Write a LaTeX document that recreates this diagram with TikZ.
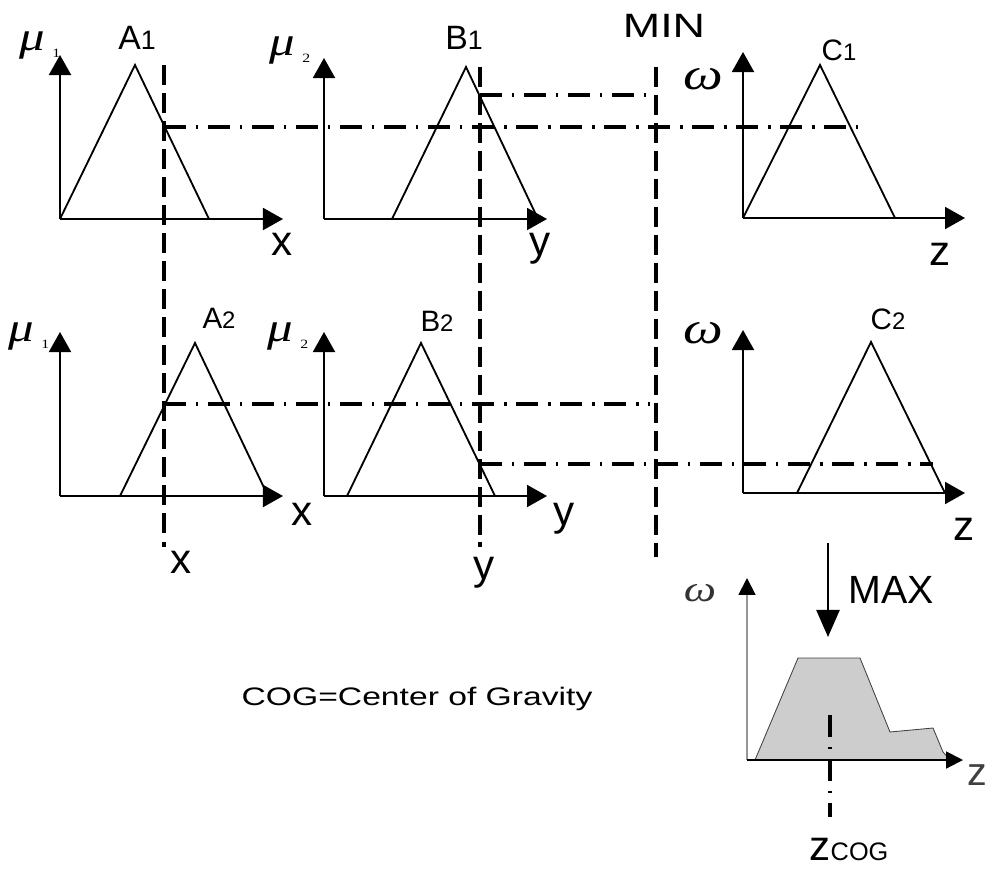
\documentclass[tikz,border=0pt]{standalone}
\usepackage{fontspec}
\setmainfont{Liberation Sans}
\newfontfamily\widesans{Liberation Sans}[FakeStretch=1.33]
\newfontfamily\greekwide{Liberation Serif}[FakeStretch=1.25]
\usetikzlibrary{arrows.meta,positioning,calc}
\definecolor{areaGray}{RGB}{205,205,205}
\definecolor{axisGray}{RGB}{150,150,150}
\newcommand{\setpt}[1]{\fontsize{#1}{#1}\selectfont}

\begin{document}
\begin{tikzpicture}[
    x=0.025cm, y=-0.025cm,
    every node/.style={inner sep=0pt, outer sep=0pt},
    axis/.style={line width=1.4pt, -{Triangle[length=0.5cm, width=0.55cm]}},
    memb/.style={line width=1.3pt, line join=miter},
    cut/.style={line width=3.1pt, dash pattern=on 0.5cm off 0.2cm},
    level/.style={line width=3.1pt, dash pattern=on 0.55cm off 0.24cm on 0.07cm off 0.24cm},
    setlbl/.style={font=\setpt{24}},
    setsmall/.style={font=\setpt{21}},
    varlbl/.style={font=\setpt{30}, anchor=base},
    mulbl/.style={font=\greekwide\itshape\setpt{29}},
    omlbl/.style={font=\greekwide\itshape\setpt{32}},
    ]
    \useasboundingbox (0,0) rectangle (998,869);
    % Row 1
    \coordinate (oA1) at (60,219);
    \coordinate (oB1) at (324,219);
    \coordinate (oC1) at (743,218);
    \draw[axis] (oA1) -- (60,55);
    \draw[axis] (oA1) -- (283,219);
    \draw[memb] (oA1) -- (135,65) -- (209,219);
    \draw[axis] (oB1) -- (324,58);
    \draw[axis] (oB1) -- (547,219);
    \draw[memb] (392,219) -- (466,67) -- (538,219);
    \draw[axis] (oC1) -- (743,52);
    \draw[axis] (oC1) -- (965,218);
    \draw[memb] (oC1) -- (820,65) -- (895,218);
    \node[mulbl]  (mu1a) at (40,45)  {μ\hspace{5pt}\raisebox{-5pt}{\upshape\setpt{9}1}};
    \node[setlbl] (lA1)  at (137,38) {A{\setpt{19}1}};
    \node[varlbl] (vx1)  at (282,255) {x};
    \node[mulbl]  (mu2a) at (290,50) {μ\hspace{5pt}\raisebox{-5pt}{\upshape\setpt{9}2}};
    \node[setlbl] (lB1)  at (464,38) {B{\setpt{19}1}};
    \node[varlbl] (vy1)  at (540,255) {y};
    \node[font=\widesans\setpt{24}] (lmin) at (664,26) {MIN};
    \node[omlbl]  (om1)  at (703,79) {ω};
    \node[setsmall] (lC1) at (839,50) {C{\setpt{17}1}};
    \node[varlbl] (vz1)  at (940,265) {z};
    % Row 2
    \coordinate (oA2) at (60,496);
    \coordinate (oB2) at (324,496);
    \coordinate (oC2) at (743,493);
    \draw[axis] (oA2) -- (60,332);
    \draw[axis] (oA2) -- (283,496);
    \draw[memb] (120,496) -- (195,343) -- (268,496);
    \draw[axis] (oB2) -- (324,332);
    \draw[axis] (oB2) -- (547,496);
    \draw[memb] (347,496) -- (421,343) -- (495,496);
    \draw[axis] (oC2) -- (743,330);
    \draw[axis] (oC2) -- (965,493);
    \draw[memb] (797,493) -- (871,342) -- (945,493);
    \node[mulbl]  (mu1b) at (29,336) {μ\hspace{5pt}\raisebox{-5pt}{\upshape\setpt{9}1}};
    \node[setsmall] (lA2) at (219,318) {A{\setpt{17}2}};
    \node[varlbl] (vx2)  at (302,525) {x};
    \node[mulbl]  (mu2b) at (288,336) {μ\hspace{5pt}\raisebox{-5pt}{\upshape\setpt{9}2}};
    \node[setsmall] (lB2) at (437,321) {B{\setpt{17}2}};
    \node[varlbl] (vy2)  at (564,525) {y};
    \node[omlbl]  (om2)  at (703,333) {ω};
    \node[setsmall] (lC2) at (888,319) {C{\setpt{17}2}};
    \node[varlbl] (vz2)  at (964,540) {z};
    % Cuts and levels
    \draw[cut] (164,65) -- (164,538);
    \draw[line width=3.1pt] (164,542) -- (164,547);
    \draw[cut] (480,67) -- (480,538);
    \draw[line width=3.1pt] (480,542) -- (480,547);
    \draw[cut] (656,67) -- (656,557);
    \node[varlbl] (xin) at (181,573) {x};
    \node[varlbl] (yin) at (484,579) {y};
    \draw[level] (480,95) -- (650,95);
    \draw[level] (164,127) -- (858,127);
    \draw[level] (164,404) -- (650,404);
    \draw[level] (480,464) -- (933,464);
    % Aggregation
    \coordinate (oZ) at (747,760);
    \draw[line width=1.6pt, -{Triangle[length=0.68cm, width=0.58cm]}] (828,543) -- (828,637);
    \node[font=\setpt{28}] (lmax) at (891,590) {MAX};
    \filldraw[fill=areaGray, draw=black!75, line width=0.6pt]
        (755,760) -- (798,658) -- (860,658) -- (890,732) -- (933,728) -- (943,752) -- (950,760) -- cycle;
    \draw[line width=1.4pt, axisGray, -{Triangle[length=0.42cm, width=0.42cm, black]}] (oZ) -- (747,578);
    \draw[line width=1.4pt, -{Triangle[length=0.42cm, width=0.42cm]}] (oZ) -- (963,760);
    \node[font=\greekwide\itshape\setpt{26}, text=black!80] (om3) at (700,593) {ω};
    \node[font=\setpt{28}, text=black!75] (vz3) at (977,775) {z};
    \draw[level] (830,715) -- (830,817);
    \node[anchor=base] (zcog) at (849,860) {\setpt{30}z\setpt{18}COG};
    \node[font=\widesans\setpt{18}] (lcog) at (417,699) {COG=Center of Gravity};
\end{tikzpicture}
\end{document}
